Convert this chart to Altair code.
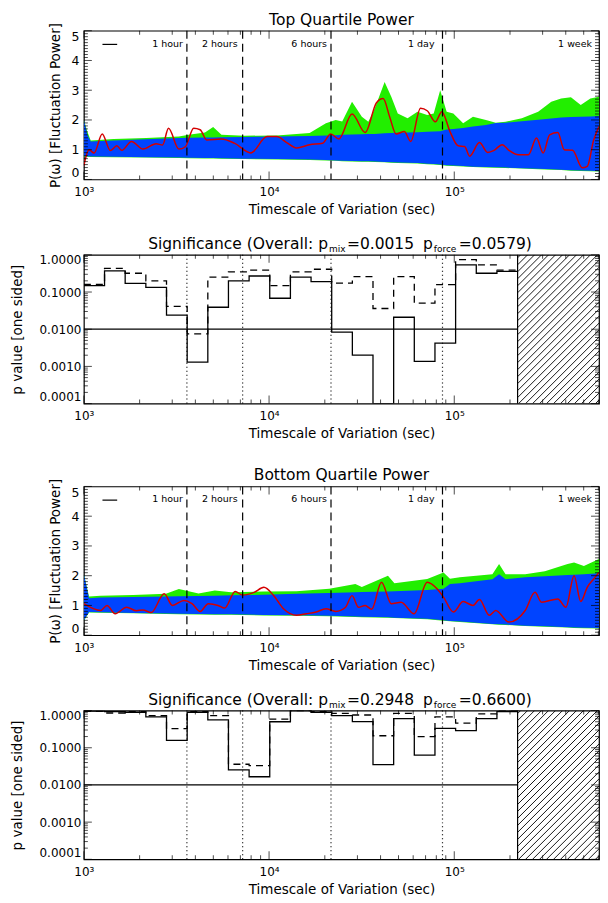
import math
import numpy as np
import pandas as pd
import altair as alt

W, H = 516, 149
XMIN, XMAX = 1000.0, 604800.0
FONT = "DejaVu Sans"
GREEN = "#22ee00"
BLUE = "#0044ff"
RED = "#d40000"

# ---------------- data ----------------
# Top quartile: envelopes (log10 timescale) and observed curve
band1_logt = [3.0, 3.019, 3.037, 3.160, 3.337, 3.513, 3.566, 3.654, 3.698, 3.743, 3.866, 4.042, 4.219, 4.307,
              4.360, 4.395, 4.448, 4.501, 4.536, 4.571, 4.624, 4.660, 4.695, 4.748, 4.801, 4.854, 4.889, 4.924,
              4.959, 4.995, 5.048, 5.101, 5.171, 5.224, 5.277, 5.365, 5.453, 5.524, 5.577, 5.630, 5.683, 5.735, 5.7816]
band1_green_hi = [2.0, 1.6, 1.31, 1.36, 1.39, 1.44, 1.50, 1.58, 1.76, 1.50, 1.47, 1.48, 1.56, 1.89, 2.0, 1.95,
                  2.61, 2.11, 1.94, 2.39, 3.28, 2.78, 2.22, 2.06, 2.28, 2.17, 2.22, 3.0, 2.28, 2.22, 1.89, 2.11,
                  2.0, 1.91, 1.94, 2.06, 2.28, 2.61, 2.72, 2.76, 2.5, 2.72, 2.78]
band1_blue_hi = [2.0, 1.5, 1.28, 1.31, 1.35, 1.39, 1.40, 1.41, 1.41, 1.42, 1.43, 1.44, 1.46, 1.48, 1.49, 1.50,
                 1.51, 1.52, 1.53, 1.53, 1.55, 1.56, 1.57, 1.58, 1.59, 1.60, 1.61, 1.62, 1.68, 1.70, 1.73, 1.78,
                 1.83, 1.90, 1.91, 1.96, 2.01, 2.05, 2.08, 2.10, 2.11, 2.12, 2.13]
band1_blue_lo = [0.78, 0.78, 0.77, 0.76, 0.75, 0.74, 0.73, 0.72, 0.72, 0.71, 0.70, 0.69, 0.67, 0.65, 0.64, 0.63,
                 0.62, 0.61, 0.61, 0.60, 0.59, 0.58, 0.57, 0.56, 0.55, 0.53, 0.52, 0.50, 0.48, 0.47, 0.45, 0.43,
                 0.42, 0.41, 0.40, 0.38, 0.36, 0.34, 0.33, 0.31, 0.30, 0.29, 0.28]
band1_green_lo = [0.765, 0.765, 0.755, 0.745, 0.735, 0.725, 0.715, 0.705, 0.705, 0.695, 0.685, 0.675, 0.655,
                  0.635, 0.625, 0.615, 0.605, 0.595, 0.595, 0.585, 0.575, 0.565, 0.555, 0.545, 0.535, 0.515,
                  0.505, 0.485, 0.465, 0.455, 0.435, 0.415, 0.405, 0.395, 0.385, 0.365, 0.345, 0.325, 0.315,
                  0.295, 0.285, 0.275, 0.265]
red1_logt = [3.0, 3.028, 3.055, 3.099, 3.143, 3.178, 3.205, 3.257, 3.319, 3.390, 3.425, 3.457, 3.513, 3.548,
             3.593, 3.628, 3.663, 3.743, 3.813, 3.901, 3.989, 4.042, 4.095, 4.148, 4.219, 4.289, 4.333, 4.377,
             4.448, 4.519, 4.580, 4.616, 4.651, 4.686, 4.730, 4.765, 4.818, 4.854, 4.898, 4.933, 4.977, 5.021,
             5.056, 5.083, 5.136, 5.180, 5.215, 5.259, 5.295, 5.347, 5.400, 5.444, 5.480, 5.515, 5.559, 5.594,
             5.639, 5.691, 5.718, 5.753, 5.7816]
red1_val = [0.47, 1.0, 0.89, 1.53, 0.97, 1.13, 0.98, 1.28, 1.02, 1.2, 1.16, 1.72, 1.02, 1.1, 1.72, 1.67, 1.33,
            1.36, 1.22, 0.89, 1.44, 1.44, 1.24, 1.06, 1.17, 1.22, 1.53, 1.36, 2.2, 1.58, 2.58, 2.72, 2.11, 1.53,
            1.61, 1.28, 2.39, 2.31, 1.94, 2.28, 1.61, 1.13, 1.11, 0.78, 1.24, 0.91, 0.98, 1.17, 0.98, 0.83, 0.83,
            1.39, 0.89, 1.5, 1.58, 1.0, 0.98, 0.39, 0.44, 1.33, 1.78]

# Bottom quartile
band3_logt = [3.0, 3.028, 3.09, 3.266, 3.443, 3.513, 3.619, 3.707, 3.795, 3.972, 4.148, 4.325, 4.466, 4.501,
              4.642, 4.677, 4.854, 4.942, 4.977, 5.030, 5.206, 5.242, 5.277, 5.383, 5.489, 5.612, 5.647, 5.700, 5.7816]
band3_green_hi = [2.05, 1.3, 1.33, 1.35, 1.39, 1.55, 1.40, 1.50, 1.44, 1.47, 1.48, 1.56, 1.72, 1.62, 2.0, 1.75,
                  1.89, 2.11, 1.90, 1.95, 2.05, 2.39, 2.05, 2.05, 2.15, 2.39, 2.44, 2.33, 2.56]
band3_blue_hi = [2.05, 1.24, 1.27, 1.28, 1.30, 1.31, 1.32, 1.33, 1.34, 1.36, 1.39, 1.42, 1.44, 1.45, 1.47, 1.48,
                 1.52, 1.56, 1.72, 1.75, 1.88, 2.05, 1.88, 1.95, 1.98, 2.02, 2.03, 2.05, 2.08]
band3_blue_lo = [0.5, 0.78, 0.77, 0.75, 0.73, 0.72, 0.71, 0.70, 0.70, 0.68, 0.67, 0.65, 0.63, 0.62, 0.60, 0.59,
                 0.55, 0.50, 0.48, 0.46, 0.38, 0.37, 0.36, 0.32, 0.30, 0.27, 0.26, 0.25, 0.24]
band3_green_lo = [0.485, 0.765, 0.755, 0.735, 0.715, 0.705, 0.695, 0.685, 0.685, 0.665, 0.655, 0.635, 0.615,
                  0.605, 0.585, 0.575, 0.535, 0.485, 0.465, 0.445, 0.365, 0.355, 0.345, 0.305, 0.285, 0.255,
                  0.245, 0.235, 0.225]
red3_logt = [3.0, 3.09, 3.125, 3.169, 3.231, 3.284, 3.319, 3.363, 3.434, 3.478, 3.540, 3.584, 3.628, 3.672,
             3.725, 3.760, 3.817, 3.857, 3.919, 3.972, 4.025, 4.078, 4.148, 4.201, 4.254, 4.307, 4.360, 4.413,
             4.448, 4.483, 4.519, 4.554, 4.607, 4.660, 4.713, 4.783, 4.854, 4.907, 4.942, 4.995, 5.048, 5.101,
             5.136, 5.189, 5.224, 5.295, 5.383, 5.436, 5.471, 5.559, 5.603, 5.647, 5.683, 5.718, 5.753, 5.7816]
red3_val = [1.06, 0.83, 1.0, 0.72, 0.94, 0.82, 0.85, 0.76, 1.39, 1.0, 1.17, 1.06, 0.80, 1.06, 1.0, 0.91, 1.47,
            1.35, 1.44, 1.61, 1.33, 0.89, 0.67, 0.72, 0.78, 0.89, 0.8, 0.94, 1.33, 0.94, 1.0, 0.87, 1.78, 1.06,
            1.11, 0.72, 1.78, 1.56, 1.28, 0.78, 1.13, 1.0, 1.2, 0.67, 0.83, 0.44, 0.83, 1.44, 1.11, 1.22, 0.94,
            2.0, 1.13, 1.61, 1.89, 2.11]

# Significance histograms (21 bins)
bin_edges = [1000, 1293, 1671, 2161, 2794, 3612, 4670, 6035, 7803, 10085, 13040, 16855, 21790, 28170, 36410,
             47070, 60850, 78670, 101700, 131500, 170000, 219800]
sig2_solid = [0.148, 0.37, 0.17, 0.133, 0.024, 0.0013, 0.039, 0.20, 0.27, 0.068, 0.25, 0.19, 0.0083, 0.002,
              0.0001, 0.021, 0.00136, 0.0042, 0.54, 0.32, 0.36]
sig2_dashed = [0.16, 0.43, 0.32, 0.20, 0.041, 0.0075, 0.25, 0.35, 0.39, 0.148, 0.35, 0.41, 0.174, 0.26, 0.036,
               0.26, 0.05, 0.158, 0.74, 0.54, 0.39]
sig4_solid = [0.96, 0.94, 0.9, 0.68, 0.158, 0.9, 0.56, 0.0255, 0.0166, 0.50, 1.0, 0.9, 0.73, 0.507, 0.035, 0.61,
              0.063, 0.33, 0.29, 0.61, 0.94]
sig4_dashed = [0.95, 0.86, 0.94, 0.73, 0.325, 0.94, 0.73, 0.036, 0.033, 0.59, 1.0, 0.94, 0.84, 0.76, 0.21, 0.84,
               0.2, 0.68, 0.46, 0.81, 1.0]

marker_times = [3600, 7200, 21600, 86400]
marker_labels = ["1 hour", "2 hours", "6 hours", "1 day", "1 week"]
marker_label_times = [3600, 7200, 21600, 86400, 604800]
marker_label_dx = [-4, -5, -4, -8, -7]
hatch_start = 219800
p_threshold = 0.01
legend_x = [1260, 1513]
legend_y = 4.54

# ---------------- scales / axes ----------------
XSCALE = alt.Scale(type="log", domain=[XMIN, XMAX], nice=False)
XAXIS = alt.Axis(values=[1000, 10000, 100000],
                 labelExpr="datum.value == 1000 ? '10\u00b3' : datum.value == 10000 ? '10\u2074' : '10\u2075'",
                 title="Timescale of Variation (sec)", labelFlush=False, labelPadding=7, titlePadding=5,
                 labelFontSize=12, titleFontSize=13.5)
PSCALE = alt.Scale(domain=[0, 5], nice=False, zero=False)
PAXIS = alt.Axis(values=[0, 1, 2, 3, 4, 5], title="P(\u03c9) [Fluctuation Power]", labelPadding=5,
                 labelFlush=True, labelFontSize=12.5, titleFontSize=13.5, minExtent=0,
                 titleX=-28, titleBaseline="middle")
SSCALE = alt.Scale(type="log", domain=[1e-4, 1], nice=False)
SAXIS = alt.Axis(values=[1e-4, 1e-3, 1e-2, 1e-1, 1], labelExpr="format(datum.value, '.4f')",
                 title="p value [one sided]", labelPadding=3, labelFlush=True, labelFontSize=12,
                 titleFontSize=13.5, minExtent=0, titleX=-66, titleBaseline="middle")


def X(field="t"):
    return alt.X(f"{field}:Q", scale=XSCALE, axis=XAXIS)


x_major = [1e3, 1e4, 1e5]
x_minor = [m * 10 ** k for k in (3, 4, 5) for m in range(2, 10) if m * 10 ** k < XMAX]
p_major = [0, 1, 2, 3, 4, 5]
p_minor = [i / 10 for i in range(51) if i % 10 != 0]
s_major = [1e-4, 1e-3, 1e-2, 1e-1, 1.0]
s_minor = [m * 10.0 ** k for k in range(-4, 0) for m in range(2, 10)]
MAJ, MIN = 8, 4


def tick_layers(ymaj, ymin, yscale, yaxis):
    layers = []
    for vals, ln in ((x_major, MAJ), (x_minor, MIN)):
        df = pd.DataFrame({"t": vals})
        for yv in (H - ln / 2, ln / 2):
            layers.append(alt.Chart(df).mark_tick(orient="vertical", thickness=1, color="black", size=ln)
                          .encode(x=X(), y=alt.value(yv)))
    for vals, ln in ((ymaj, MAJ), (ymin, MIN)):
        df = pd.DataFrame({"v": vals})
        for xv in (ln / 2, W - ln / 2):
            layers.append(alt.Chart(df).mark_tick(orient="horizontal", thickness=1, color="black", size=ln)
                          .encode(y=alt.Y("v:Q", scale=yscale, axis=yaxis), x=alt.value(xv)))
    return layers


def text_piece(s, x, y, size, align="left"):
    return alt.Chart(pd.DataFrame({"s": [s]})).mark_text(
        align=align, baseline="alphabetic", fontSize=size, font=FONT, color="black"
    ).encode(text="s:N", x=alt.value(x), y=alt.value(y))


def power_panel(title, logt, ghi, glo, bhi, blo, rlogt, rval):
    band = pd.DataFrame({"t": [10 ** v for v in logt], "ghi": ghi, "glo": glo, "bhi": bhi, "blo": blo})
    red = pd.DataFrame({"t": [10 ** v for v in rlogt], "v": rval})
    Y = lambda f: alt.Y(f"{f}:Q", scale=PSCALE, axis=PAXIS)
    green = alt.Chart(band).mark_area(color=GREEN, clip=True).encode(x=X(), y=Y("ghi"), y2="glo:Q")
    blue = alt.Chart(band).mark_area(color=BLUE, clip=True).encode(x=X(), y=Y("bhi"), y2="blo:Q")
    redl = alt.Chart(red).mark_line(color=RED, strokeWidth=1.5, interpolate="monotone", clip=True).encode(
        x=X(), y=Y("v"))
    vl = alt.Chart(pd.DataFrame({"t": marker_times})).mark_rule(
        color="black", strokeDash=[8, 5], strokeWidth=1.2).encode(x=X())
    labels = [
        alt.Chart(pd.DataFrame({"t": [t], "s": [s]})).mark_text(
            align="right", baseline="middle", fontSize=9.5, font=FONT, color="black", dx=dx
        ).encode(x=X(), y=alt.value(13), text="s:N")
        for t, s, dx in zip(marker_label_times, marker_labels, marker_label_dx)
    ]
    leg = alt.Chart(pd.DataFrame({"t": [legend_x[0]], "t2": [legend_x[1]], "v": [legend_y]})).mark_rule(
        color="black", strokeWidth=1.2).encode(x=X(), x2="t2:Q", y=Y("v"))
    ttl = text_piece(title, W / 2, -6, 15.5, "center")
    return alt.layer(green, blue, redl, vl, *labels, leg,
                     *tick_layers(p_major, p_minor, PSCALE, PAXIS), ttl).properties(width=W, height=H)


def hatch_df():
    lspan = math.log10(XMAX) - 3.0
    lx0 = math.log10(hatch_start)
    span_px = W * (math.log10(XMAX) - lx0) / lspan
    rows = []
    step = 7.0
    c = -H + 3.0
    while c < span_px:
        p0 = max(0.0, c)
        p1 = min(span_px, H + c)
        if p1 > p0:
            rows.append({
                "t": 10 ** (lx0 + p0 / W * lspan), "v": 10 ** (-4 + (p0 - c) / H * 4),
                "t2": 10 ** (lx0 + p1 / W * lspan), "v2": 10 ** (-4 + (p1 - c) / H * 4),
            })
        c += step
    return pd.DataFrame(rows)


def sig_panel(val_text, force_text, solid, dashed):
    Y = lambda f: alt.Y(f"{f}:Q", scale=SSCALE, axis=SAXIS)
    s_df = pd.DataFrame({"t": bin_edges, "v": solid + [solid[-1]]})
    d_df = pd.DataFrame({"t": bin_edges, "v": dashed + [dashed[-1]]})
    sl = alt.Chart(s_df).mark_line(interpolate="step-after", color="black", strokeWidth=1.3, clip=True).encode(
        x=X(), y=Y("v"))
    dl = alt.Chart(d_df).mark_line(interpolate="step-after", color="black", strokeWidth=1.3,
                                   strokeDash=[7, 5], clip=True).encode(x=X(), y=Y("v"))
    hl = alt.Chart(pd.DataFrame({"t": [XMIN], "t2": [hatch_start], "v": [p_threshold]})).mark_rule(
        color="black", strokeWidth=1.2).encode(x=X(), x2="t2:Q", y=Y("v"))
    vl = alt.Chart(pd.DataFrame({"t": marker_times})).mark_rule(
        color="black", strokeDash=[1, 3], strokeWidth=1.2).encode(x=X())
    hatch = alt.Chart(hatch_df()).mark_rule(color="black", strokeWidth=0.9, clip=True).encode(
        x=X(), x2="t2:Q", y=Y("v"), y2="v2:Q")
    edge = alt.Chart(pd.DataFrame({"t": [hatch_start]})).mark_rule(color="black", strokeWidth=1.2).encode(x=X())
    off = (W - 525) / 2
    tt = [
        text_piece("Significance (Overall: p", 249 + off, -6, 15.5, "right"),
        text_piece("mix", 250 + off, -2.5, 9, "left"),
        text_piece(val_text, 268 + off, -6, 15.5, "left"),
        text_piece("p", 354 + off, -6, 15.5, "right"),
        text_piece("force", 355 + off, -2.5, 9, "left"),
        text_piece(force_text, 380 + off, -6, 15.5, "left"),
    ]
    return alt.layer(sl, dl, hl, vl, hatch, edge,
                     *tick_layers(s_major, s_minor, SSCALE, SAXIS), *tt).properties(width=W, height=H)


p1 = power_panel("Top Quartile Power", band1_logt, band1_green_hi, band1_green_lo, band1_blue_hi,
                 band1_blue_lo, red1_logt, red1_val)
p2 = sig_panel("=0.0015", "=0.0579)", sig2_solid, sig2_dashed)
p3 = power_panel("Bottom Quartile Power", band3_logt, band3_green_hi, band3_green_lo, band3_blue_hi,
                 band3_blue_lo, red3_logt, red3_val)
p4 = sig_panel("=0.2948", "=0.6600)", sig4_solid, sig4_dashed)

chart = alt.vconcat(
    alt.vconcat(p1, p2, spacing=18.5),
    alt.vconcat(p3, p4, spacing=18.5),
    spacing=26.5,
).properties(
    padding={"left": 2, "top": 3, "right": 0, "bottom": 0},
    background="white",
).configure_view(
    stroke="black", strokeWidth=1.2
).configure_axis(
    labelFont=FONT, titleFont=FONT, labelColor="black", titleColor="black", titleFontWeight="normal",
    grid=False, ticks=False, domain=False
)

chart.save("out.html", embed_options={"renderer": "svg", "actions": False})
